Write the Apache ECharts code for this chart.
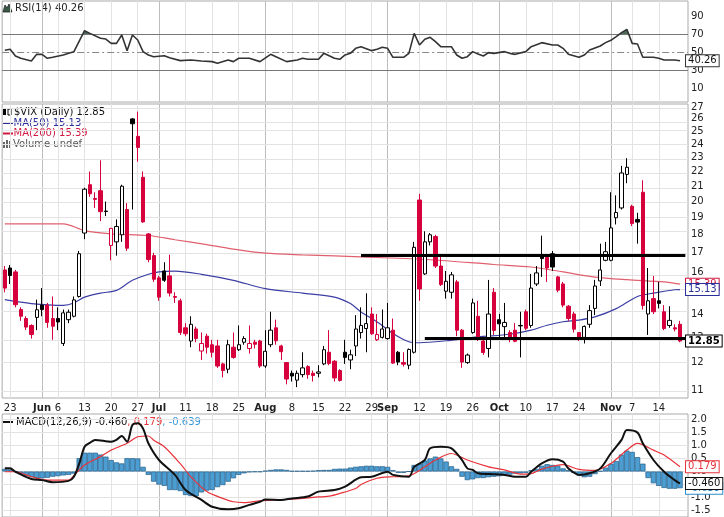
<!DOCTYPE html>
<html><head><meta charset="utf-8">
<script src="https://cdn.jsdelivr.net/npm/echarts@6/dist/echarts.min.js"></script>
<style>html,body{margin:0;padding:0;background:#fff}#c{width:724px;height:517px}</style>
</head><body><div id="c"></div><script>
const FONT = '"DejaVu Sans", Verdana, sans-serif';
const RED = '#d6003c';

// ---------- categories (trading days) ----------
const dates = [
'2016-05-20','2016-05-23','2016-05-24','2016-05-25','2016-05-26','2016-05-27','2016-05-31',
'2016-06-01','2016-06-02','2016-06-03','2016-06-06','2016-06-07','2016-06-08','2016-06-09','2016-06-10','2016-06-13','2016-06-14','2016-06-15','2016-06-16','2016-06-17','2016-06-20','2016-06-21','2016-06-22','2016-06-23','2016-06-24','2016-06-27','2016-06-28','2016-06-29','2016-06-30',
'2016-07-01','2016-07-05','2016-07-06','2016-07-07','2016-07-08','2016-07-11','2016-07-12','2016-07-13','2016-07-14','2016-07-15','2016-07-18','2016-07-19','2016-07-20','2016-07-21','2016-07-22','2016-07-25','2016-07-26','2016-07-27','2016-07-28','2016-07-29',
'2016-08-01','2016-08-02','2016-08-03','2016-08-04','2016-08-05','2016-08-08','2016-08-09','2016-08-10','2016-08-11','2016-08-12','2016-08-15','2016-08-16','2016-08-17','2016-08-18','2016-08-19','2016-08-22','2016-08-23','2016-08-24','2016-08-25','2016-08-26','2016-08-29','2016-08-30','2016-08-31',
'2016-09-01','2016-09-02','2016-09-06','2016-09-07','2016-09-08','2016-09-09','2016-09-12','2016-09-13','2016-09-14','2016-09-15','2016-09-16','2016-09-19','2016-09-20','2016-09-21','2016-09-22','2016-09-23','2016-09-26','2016-09-27','2016-09-28','2016-09-29','2016-09-30',
'2016-10-03','2016-10-04','2016-10-05','2016-10-06','2016-10-07','2016-10-10','2016-10-11','2016-10-12','2016-10-13','2016-10-14','2016-10-17','2016-10-18','2016-10-19','2016-10-20','2016-10-21','2016-10-24','2016-10-25','2016-10-26','2016-10-27','2016-10-28','2016-10-31',
'2016-11-01','2016-11-02','2016-11-03','2016-11-04','2016-11-07','2016-11-08','2016-11-09','2016-11-10','2016-11-11','2016-11-14','2016-11-15','2016-11-16','2016-11-17','2016-11-18'
];

// ---------- $VIX daily OHLC ----------
const opens = [
16.1,16.2,16.0,14.2,13.8,13.5,13.85,
14.4,14.4,13.8,13.8,12.75,13.75,13.9,14.8,18.1,21.1,20.2,20.7,19.38,17.4,17.6,18.0,19.5,26.0,24.6,21.6,18.05,16.85,
15.7,16.05,15.8,14.8,14.6,13.4,12.85,13.35,12.45,13.05,12.7,12.65,11.95,11.75,12.6,12.5,12.8,12.55,12.8,12.85,
11.87,12.7,13.4,12.65,12.0,11.6,11.35,11.55,11.85,11.6,11.6,11.95,12.4,12.05,11.7,12.4,12.1,12.65,13.2,13.37,14.0,12.9,13.0,
12.95,13.3,12.4,12.0,11.9,12.4,20.1,15.9,17.6,17.9,16.3,15.05,15.0,15.5,13.3,12.0,13.2,13.9,12.85,12.55,15.0,
13.75,13.45,13.2,13.3,13.5,14.1,13.5,15.4,16.9,16.75,16.95,15.75,15.4,14.35,14.0,13.2,13.0,13.55,14.25,15.55,16.6,
16.6,19.0,19.6,21.8,19.7,18.9,20.6,14.0,14.7,14.6,14.1,13.5,13.4,13.55
];
const highs = [
16.3,16.35,16.1,14.3,13.9,13.55,14.65,
15.2,14.5,14.8,14.3,14.2,14.2,14.8,17.1,20.9,22.0,20.6,22.8,20.0,18.4,18.9,21.1,19.9,26.05,26.6,22.0,18.1,17.0,
15.8,16.5,16.9,15.0,14.7,13.6,13.9,13.45,13.2,13.15,12.9,12.9,12.0,12.9,13.2,13.5,13.05,13.5,12.9,12.9,
13.3,14.1,13.75,12.7,12.0,11.7,11.7,12.4,11.9,11.7,11.9,12.65,13.3,12.1,11.75,12.9,12.5,13.95,14.3,14.95,14.3,14.0,14.2,
14.5,13.8,12.45,12.4,12.55,17.6,20.5,18.2,18.1,18.0,16.8,16.05,16.0,15.6,13.35,12.35,14.7,14.6,12.95,15.6,15.2,
14.0,14.5,13.3,13.6,14.1,14.2,15.9,16.3,17.95,16.8,17.1,15.8,15.5,14.4,14.1,13.2,13.5,14.4,15.6,17.5,17.6,
20.6,20.4,22.4,22.95,19.8,19.3,21.4,16.2,15.8,15.5,14.4,14.35,13.55,13.7
];
const lows = [
15.0,15.4,14.3,13.7,13.3,12.95,13.3,
13.9,13.4,12.9,13.3,12.65,13.6,13.85,14.75,17.75,20.3,19.6,18.8,19.1,16.6,16.85,17.6,17.1,19.5,22.7,18.7,16.5,15.5,
14.6,15.5,14.8,14.5,13.1,13.05,12.6,12.8,12.1,12.35,12.2,11.8,11.45,11.6,12.15,12.45,12.7,12.35,12.55,11.8,
11.8,12.6,12.7,12.1,11.2,11.3,11.1,11.45,11.4,11.3,11.45,11.9,11.9,11.3,11.3,11.95,11.75,12.25,12.95,12.4,13.1,12.85,12.95,
12.9,11.95,11.9,11.85,11.75,12.35,14.6,15.85,17.4,16.2,15.3,14.7,14.7,13.05,11.8,11.95,13.15,12.85,12.3,12.2,13.1,
13.0,12.95,12.8,12.8,12.2,13.3,13.4,15.3,15.75,15.5,16.05,15.0,14.3,13.7,13.2,12.85,12.75,13.4,13.95,15.3,16.55,
16.55,18.6,19.5,21.2,18.5,17.5,14.2,13.1,14.0,14.25,13.3,13.4,13.25,12.8
];
const closes = [
15.2,15.82,14.42,13.9,13.43,13.12,14.19,
14.2,13.63,13.47,13.65,14.05,14.08,14.64,16.95,20.8,20.5,20.14,19.37,19.41,18.37,18.48,21.0,17.25,25.6,23.75,18.75,16.64,15.63,
14.77,15.58,14.96,14.76,13.2,13.15,13.55,12.95,12.75,12.6,12.4,11.87,11.7,12.7,12.2,12.7,12.95,12.75,12.72,11.87,
12.44,13.3,12.86,12.42,11.39,11.5,11.6,11.8,11.55,11.52,11.65,12.5,11.97,11.43,11.34,12.2,12.3,13.35,13.5,13.58,13.15,13.12,13.35,
13.4,11.98,12.02,11.94,12.51,17.3,15.16,17.6,18.0,16.3,15.37,15.53,15.85,13.3,12.02,12.29,14.5,12.96,12.39,14.0,13.29,
13.57,13.63,12.99,12.84,13.48,13.38,15.2,15.95,16.69,16.2,16.25,15.1,14.4,13.8,13.34,13.02,13.46,14.15,15.3,16.1,17.06,
18.4,19.32,21.9,22.3,18.65,18.74,14.38,14.6,14.1,14.48,13.37,13.72,13.35,12.85
];

// ---------- moving averages: [dayIndex, value] ----------
const ma50Pts = [[0,14.65],[5,14.47],[11,14.39],[13,14.5],[15,14.77],[18,14.96],[21,15.09],[24,15.58],[27,15.88],[29,16.0],[32,16.04],[37,15.88],[43,15.58],[49,15.17],[56,14.96],[62,14.77],[65,14.47],[67,14.09],[70,13.66],[73,13.16],[76,12.82],[78,12.78],[83,12.86],[89,13.02],[95,13.13],[99,13.3],[102,13.51],[105,13.66],[108,13.73],[111,13.87],[115,14.24],[119,14.8],[122,14.96],[126,15.12],[127,15.13]];
const ma200Pts = [[0,18.63],[11,18.63],[15,18.24],[20,18.05],[27,17.96],[32,17.72],[38,17.45],[44,17.16],[49,16.98],[56,16.89],[62,16.84],[67,16.78],[80,16.63],[92,16.38],[99,16.25],[105,16.0],[111,15.74],[117,15.61],[124,15.5],[127,15.39]];

// ---------- RSI(14) ----------
const rsiPts = [[0,52],[1,53],[2,45.6],[3,43],[5,40],[6,47.4],[7,47.4],[8,43],[9,44.1],[11,46.7],[12,48.5],[13,50.4],[15,73.7],[16,70.7],[18,65.2],[19,64.4],[20,59.6],[21,59.6],[22,68.9],[23,51.5],[24,68.9],[25,63.3],[26,50.4],[27,46.7],[28,44.8],[30,45.9],[31,43.7],[33,40.4],[35,41.1],[37,40],[39,39.3],[40,37.4],[42,41.1],[43,39.3],[44,43],[46,43],[48,39.3],[50,47.4],[51,44.8],[53,39.3],[55,41.1],[56,43],[57,41.9],[59,41.9],[60,48.5],[62,43],[63,41.9],[64,46.7],[65,48.5],[66,54.1],[67,55.9],[69,51.5],[70,53],[71,55.2],[72,54.1],[73,44.1],[75,44.1],[76,48.5],[77,70.7],[78,57.8],[79,64.1],[80,66.3],[81,61.5],[82,55.9],[84,55.9],[85,46.7],[86,43],[87,44.8],[88,50.4],[89,47.8],[90,45.6],[91,49.3],[92,48.5],[94,50.4],[95,48.5],[96,47.4],[98,50.4],[99,55.9],[101,60.4],[103,57.8],[104,57.8],[105,54.1],[106,47.4],[108,44.1],[109,46.7],[110,52.2],[112,56.7],[113,60.4],[114,63],[115,67],[116,71.5],[117,75.2],[118,59.6],[119,58.9],[120,44.1],[122,44.1],[123,43],[124,41.1],[126,41.1],[127,40.26]];

// ---------- MACD(12,26,9) ----------
const macdPts = [[0,0.12],[1,0.12],[2,-0.01],[5,-0.29],[7,-0.33],[9,-0.41],[12,-0.36],[13,-0.2],[14,0.3],[15,0.95],[16,1.1],[17,1.21],[20,1.14],[21,1.21],[22,1.36],[23,1.14],[24,1.78],[25,1.85],[26,1.65],[27,1.08],[29,0.44],[32,-0.13],[34,-0.71],[37,-1.09],[39,-1.35],[42,-1.45],[44,-1.41],[46,-1.28],[48,-1.16],[49,-1.07],[52,-1.09],[54,-1.03],[57,-0.96],[59,-0.77],[62,-0.71],[64,-0.58],[67,-0.22],[69,-0.2],[72,-0.01],[73,-0.13],[76,-0.2],[77,0.18],[79,0.44],[80,0.89],[82,0.95],[84,0.89],[86,0.44],[87,0.12],[88,0.06],[89,-0.07],[91,-0.1],[94,-0.13],[96,-0.2],[98,-0.2],[99,-0.01],[101,0.31],[103,0.47],[105,0.38],[106,0.12],[108,-0.13],[110,-0.07],[112,0.12],[114,0.7],[116,1.21],[117,1.59],[119,1.49],[120,1.08],[122,0.44],[124,-0.01],[126,-0.33],[127,-0.46]];
const signalPts = [[0,-0.01],[2,-0.01],[5,-0.2],[8,-0.33],[12,-0.33],[13,-0.15],[15,0.25],[18,0.57],[20,0.82],[23,1.08],[25,1.33],[27,1.36],[28,1.2],[30,0.95],[33,0.3],[35,-0.2],[38,-0.77],[41,-1.03],[43,-1.16],[45,-1.19],[48,-1.12],[51,-1.09],[53,-1.07],[56,-1.03],[58,-0.99],[61,-0.94],[63,-0.84],[66,-0.65],[67,-0.5],[70,-0.26],[73,-0.2],[76,-0.17],[79,0.18],[81,0.44],[84,0.69],[85,0.63],[87,0.44],[91,0.18],[94,0.06],[97,-0.1],[99,-0.08],[101,0.09],[105,0.26],[108,0.08],[111,0.04],[114,0.31],[117,0.82],[119,1.08],[122,0.82],[124,0.63],[127,0.179]];
const histVals = [
0.1,0.08,0.0,-0.1,-0.18,-0.22,-0.26,-0.26,-0.24,-0.2,-0.18,-0.15,-0.13,-0.08,0.51,0.72,0.72,0.72,0.65,0.57,0.44,0.35,0.31,0.51,0.51,0.5,0.18,
-0.13,-0.39,-0.5,-0.55,-0.71,-0.71,-0.75,-0.9,-0.94,-0.94,-0.8,-0.73,-0.71,-0.6,-0.52,-0.39,-0.26,-0.13,-0.07,-0.03,-0.02,-0.02,
0.03,0.06,0.08,0.08,0.06,0.02,0.02,0.02,0.02,0.03,0.05,0.06,0.06,0.1,0.11,0.11,0.15,0.18,0.2,
0.22,0.22,0.2,0.2,0.18,0.05,-0.05,-0.05,0.0,0.25,0.3,0.42,0.5,0.57,0.5,0.38,0.2,0.1,-0.2,-0.33,-0.3,-0.25,-0.25,-0.22,-0.2,-0.18,-0.15,-0.12,-0.08,-0.07,-0.05,
0.05,0.1,0.22,0.28,0.25,0.22,0.12,0.05,-0.05,-0.15,-0.22,-0.2,-0.1,0.02,0.15,0.3,0.4,0.65,0.8,0.75,0.55,0.3,-0.25,-0.45,-0.55,-0.63,-0.66,-0.66,-0.639
];

// ---------- axes ticks / annotations ----------
const tickDates = ['2016-05-23','2016-06-01','2016-06-06','2016-06-13','2016-06-20','2016-06-27','2016-07-01','2016-07-11','2016-07-18','2016-07-25','2016-08-01','2016-08-08','2016-08-15','2016-08-22','2016-08-29','2016-09-01','2016-09-12','2016-09-19','2016-09-26','2016-10-03','2016-10-10','2016-10-17','2016-10-24','2016-11-01','2016-11-07','2016-11-14'];
const tickLabels = ['23','Jun','6','13','20','27','Jul','11','18','25','Aug','8','15','22','29','Sep','12','19','26','Oct','10','17','24','Nov','7','14'];
const priceTicks = [11,12,13,14,15,16,17,18,19,20,21,22,23,24,25,26,27];
const rsiTicks = [10,30,50,70,90];
const macdTicks = [-1.5,-1.0,-0.5,0.0,0.5,1.0,1.5,2.0];
const trendLines = [{from:67, level:16.86}, {from:79, level:12.95}];

// ---------- build ----------
const L = v => Math.log10(v);
const cats = dates.concat(['']);
const last = dates.length - 1;
const tickMap = {}; tickDates.forEach((d,i)=>tickMap[d]=tickLabels[i]);
const isMonth = d => isNaN(+tickMap[d]);

const candleData = closes.map((c,i)=>{
  const o = opens[i];
  const ref = i>0 ? closes[i-1] : o;
  const col = c >= ref ? '#000' : RED;
  const fill = c > o ? '#fff' : col;
  return {value:[L(o),L(c),L(lows[i]),L(highs[i])],
          itemStyle:{color:fill,color0:fill,borderColor:col,borderColor0:col}};
});

const vGrid = () => tickDates.map(d=>({xAxis:d, lineStyle:{color:isMonth(d)?'#bdbdbd':'#e3e3e3', width:1, type:'solid'}}));
const mkGrid = (extra) => ({silent:true, symbol:'none', z:1, animation:false, label:{show:false}, data: vGrid().concat(extra)});

const tag = (txt, color, border) => ({
  show:true, formatter:()=>txt, color:color, fontSize:10, fontFamily:FONT,
  backgroundColor:'#fff', borderColor:border, borderWidth:1, padding:[1,2,0,2], distance:6
});
const axisLblStyle = {fontSize:10, fontFamily:FONT, color:'#222', margin:3};
const hideX = (gi)=>({type:'category', gridIndex:gi, data:cats, boundaryGap:true, axisLine:{show:false}, axisTick:{show:false}, axisLabel:{show:false}, splitLine:{show:false}});

const f2 = v => v.toFixed(2);
const lastRsi = rsiPts[rsiPts.length-1][1];
const lastMa50 = ma50Pts[ma50Pts.length-1][1];
const lastMa200 = ma200Pts[ma200Pts.length-1][1];
const lastMacd = macdPts[macdPts.length-1][1];
const lastSig = signalPts[signalPts.length-1][1];
const lastHist = histVals[histVals.length-1];

const chart = echarts.init(document.getElementById('c'));
chart.setOption({
  animation:false,
  textStyle:{fontFamily:FONT},
  grid:[
    {left:2.15, right:36, top:1, height:101, show:true, borderColor:'#aaa', borderWidth:1},
    {left:2.15, right:36, top:104, height:294, show:true, borderColor:'#aaa', borderWidth:1},
    {left:2.15, right:36, top:414, height:103, show:true, borderColor:'#aaa', borderWidth:1}
  ],
  xAxis:[
    hideX(0),
    {type:'category', gridIndex:1, data:cats, boundaryGap:true, axisLine:{show:false}, axisTick:{show:false}, splitLine:{show:false},
     axisLabel:{interval:(i,v)=>v in tickMap, formatter:(v)=>{const t=tickMap[v]; return isMonth(v)?'{m|'+t+'}':t;},
       fontSize:10, fontFamily:FONT, color:'#222', margin:5,
       rich:{m:{fontWeight:'bold', fontSize:10, fontFamily:FONT, color:'#222'}}}},
    hideX(2)
  ],
  yAxis:[
    {type:'value', gridIndex:0, position:'right', min:-5.56, max:106.67, splitLine:{show:false}, axisLine:{show:false}, axisTick:{show:false},
     axisLabel:Object.assign({customValues:rsiTicks, formatter:v=>String(Math.round(v))}, axisLblStyle)},
    {type:'value', gridIndex:1, position:'right', min:L(priceTicks[0])-0.0110, max:1.43548, splitLine:{show:false}, axisLine:{show:false}, axisTick:{show:false},
     axisLabel:Object.assign({customValues:priceTicks.map(L), formatter:v=>String(Math.round(Math.pow(10,v)))}, axisLblStyle)},
    {type:'value', gridIndex:2, position:'right', min:-1.743, max:2.203, splitLine:{show:false}, axisLine:{show:false}, axisTick:{show:false},
     axisLabel:Object.assign({customValues:macdTicks, formatter:v=>v.toFixed(1)}, axisLblStyle)}
  ],
  visualMap:[{type:'piecewise', show:false, seriesIndex:1, dimension:1,
    pieces:[{min:70, max:100, color:'#4f6b5a'}, {min:0, max:70, color:'rgba(255,255,255,0)'}]}],
  series:[
    {type:'line', name:'RSI', xAxisIndex:0, yAxisIndex:0, data:rsiPts, symbol:'none', z:3,
     lineStyle:{color:'#333', width:1.6}, itemStyle:{color:'#333'},
     endLabel:tag(f2(lastRsi),'#111','#333'),
     markLine:mkGrid([
       {yAxis:70, lineStyle:{color:'#777', width:1, type:'solid'}},
       {yAxis:30, lineStyle:{color:'#777', width:1, type:'solid'}},
       {yAxis:50, lineStyle:{color:'#888', width:1, type:[7,3,2,3]}}
     ])},
    {type:'line', name:'RSIfill', xAxisIndex:0, yAxisIndex:0, data:rsiPts, symbol:'none', z:2,
     lineStyle:{width:0, opacity:0}, areaStyle:{opacity:1}},
    {type:'candlestick', name:'$VIX', xAxisIndex:1, yAxisIndex:1, data:candleData, barWidth:3.8, z:3},
    {type:'line', name:'MA200', xAxisIndex:1, yAxisIndex:1, data:ma200Pts.map(([i,v])=>[i,L(v)]), symbol:'none', smooth:0.3, z:2,
     lineStyle:{color:'#e0606e', width:1.2}, itemStyle:{color:'#e0606e'}, endLabel:tag(f2(lastMa200),'#d01840','#d01840'),
     markLine:mkGrid(priceTicks.map(p=>({yAxis:L(p), lineStyle:{color:'#e3e3e3', width:1, type:'solid'}})))},
    {type:'line', name:'MA50', xAxisIndex:1, yAxisIndex:1, data:ma50Pts.map(([i,v])=>[i,L(v)]), symbol:'none', smooth:0.3, z:2,
     lineStyle:{color:'#3b3fa3', width:1.2}, itemStyle:{color:'#3b3fa3'}, endLabel:tag(f2(lastMa50),'#2a2f9a','#2a2f9a')},
    {type:'line', name:'closeTag', xAxisIndex:1, yAxisIndex:1, data:closes.map((c,i)=>[i,L(c)]), symbol:'none', z:6,
     lineStyle:{opacity:0}, endLabel:Object.assign(tag(f2(closes[last]),'#000','#000'),{fontWeight:'bold'}),
     markLine:{silent:true, symbol:'none', z:5, animation:false, label:{show:false},
       data:trendLines.map(t=>[{coord:[t.from, L(t.level)]},{coord:[cats.length-1, L(t.level)]}]),
       lineStyle:{color:'#000', width:3, type:'solid'}}},
    {type:'bar', name:'hist', xAxisIndex:2, yAxisIndex:2, data:histVals, barCategoryGap:'0%', z:2,
     itemStyle:{color:'#4c9dd2', borderColor:'#245f8a', borderWidth:0.7}},
    {type:'line', name:'histTag', xAxisIndex:2, yAxisIndex:2, data:histVals.map((v,i)=>[i,v]), symbol:'none', z:3,
     lineStyle:{opacity:0}, endLabel:tag(lastHist.toFixed(3),'#2f8fd0','#2f8fd0'),
     markLine:mkGrid(macdTicks.map(v=>({yAxis:v, lineStyle:{color:'#e3e3e3', width:1, type:'solid'}})))},
    {type:'line', name:'signal', xAxisIndex:2, yAxisIndex:2, data:signalPts, symbol:'none', smooth:0.3, z:4,
     lineStyle:{color:'#e8333a', width:1.2}, itemStyle:{color:'#e8333a'}, endLabel:tag(lastSig.toFixed(3),'#e8333a','#e8333a')},
    {type:'line', name:'MACD', xAxisIndex:2, yAxisIndex:2, data:macdPts, symbol:'none', smooth:0.3, z:5,
     lineStyle:{color:'#111', width:2}, itemStyle:{color:'#111'}, endLabel:tag(lastMacd.toFixed(3),'#111','#111')}
  ],
  graphic:[
    {type:'polygon', shape:{points:[[3,12],[5,5],[7,8],[9,4],[12,12]]}, style:{fill:'#3a5a48', stroke:'#222', lineWidth:0.8}},
    {type:'text', x:15, y:8, style:{text:'RSI(14) '+f2(lastRsi), font:'10px '+FONT, fill:'#222', verticalAlign:'middle'}},
    {type:'rect', shape:{x:3,y:108,width:3,height:7}, style:{fill:'#000'}},
    {type:'rect', shape:{x:8,y:109,width:3,height:6}, style:{fill:'#fff', stroke:'#000', lineWidth:1}},
    {type:'text', x:14, y:112, style:{text:'$VIX (Daily) '+f2(closes[last]), font:'10px '+FONT, fill:'#111', verticalAlign:'middle'}},
    {type:'line', shape:{x1:3,y1:123,x2:13,y2:123}, style:{stroke:'#2a2f9a', lineWidth:2}},
    {type:'text', x:13.5, y:123, style:{text:'MA(50) '+f2(lastMa50), font:'10px '+FONT, fill:'#2a2f9a', verticalAlign:'middle'}},
    {type:'line', shape:{x1:3,y1:133.5,x2:13,y2:133.5}, style:{stroke:'#d01840', lineWidth:2}},
    {type:'text', x:13.5, y:133.5, style:{text:'MA(200) '+f2(lastMa200), font:'10px '+FONT, fill:'#d01840', verticalAlign:'middle'}},
    {type:'rect', shape:{x:3,y:142,width:2,height:6}, style:{fill:'#666'}},
    {type:'rect', shape:{x:6,y:140,width:2,height:8}, style:{fill:'#666'}},
    {type:'rect', shape:{x:9,y:141,width:2,height:7}, style:{fill:'#666'}},
    {type:'text', x:13, y:144.5, style:{text:'Volume undef', font:'10px '+FONT, fill:'#555', verticalAlign:'middle'}},
    {type:'line', shape:{x1:3,y1:422,x2:13,y2:422}, style:{stroke:'#111', lineWidth:2}},
    {type:'text', x:16, y:422, style:{text:'{k|MACD(12,26,9) '+lastMacd.toFixed(3)+'}{r|, '+lastSig.toFixed(3)+'}{b|, '+lastHist.toFixed(3)+'}',
      font:'10px '+FONT, verticalAlign:'middle',
      rich:{k:{fill:'#111', font:'10px '+FONT}, r:{fill:'#e8333a', font:'10px '+FONT}, b:{fill:'#3a9ad8', font:'10px '+FONT}}}}
  ]
});
</script></body></html>
